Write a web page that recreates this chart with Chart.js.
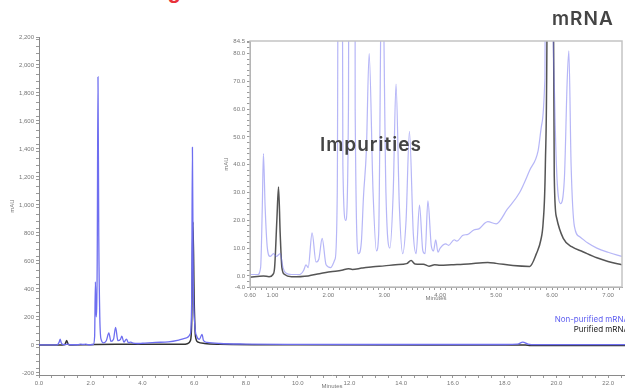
<!DOCTYPE html>
<html lang="en">
<head>
<meta charset="UTF-8">
<title>mRNA purification chromatogram</title>
<script src="https://cdn.jsdelivr.net/npm/chart.js@4"></script>
<style>
    body {
        margin: 0;
        width: 625px;
        height: 391px;
        overflow: hidden;
        position: relative;
        background: #fff;
        font-family: Inter, "Liberation Sans", sans-serif;
    }
    #main { position: absolute; left: 0; top: 0; }
    #inset { position: absolute; left: 200px; top: 30px; background: #fff; }
    .note { position: absolute; font-weight: 600; font-size: 19px; letter-spacing: 1px; color: #444; white-space: nowrap; }
    .legend { position: absolute; font-size: 8px; white-space: nowrap; text-align: right; }
    .title { position: absolute; top: -20px; font: bold 22px "Liberation Sans", sans-serif; color: #e8323a; line-height: 22px; white-space: nowrap; }
</style>
</head>
<body>
<div class="title" style="right:444px;">Removing</div>
<canvas id="main" width="625" height="391"></canvas>
<canvas id="inset" width="425" height="280"></canvas>
<div class="note" style="left:320px; top:133px;">Impurities</div>
<div class="note" style="left:552px; top:7px;">mRNA</div>
<div class="legend" style="right:-4px; top:314px; color:#5c5cf0;">Non-purified mRNA</div>
<div class="legend" style="right:-4px; top:324px; color:#222;">Purified mRNA</div>
<script>
// full run, minutes / mAU
const mainBlueT = [0, 0.7, 0.78, 0.82, 0.86, 0.92, 1.0, 1.1, 1.2, 1.5, 1.62, 1.7, 1.8, 1.9, 2.1, 2.15, 2.18, 2.21, 2.25, 2.28, 2.31, 2.35, 2.4, 2.5, 2.6, 2.7, 2.78, 2.88, 2.96, 3.05, 3.15, 3.2, 3.28, 3.38, 3.46, 3.55, 3.65, 3.8, 4.0, 4.5, 5.0, 5.4, 5.7, 5.85, 5.9, 5.93, 5.96, 6.02, 6.1, 6.2, 6.3, 6.36, 6.5, 7, 8, 10, 14, 18, 18.5, 18.7, 18.9, 19.2, 22.65];
const mainBlueY = [0, 0, 20, 42, 15, 3, 2, 5, 1, 1, 6, 3, 5, 1, 3, 60, 450, 200, 600, 1915, 780, 200, 40, 15, 30, 85, 25, 40, 125, 30, 40, 62, 20, 42, 15, 20, 12, 10, 12, 18, 22, 35, 50, 80, 300, 1412, 500, 150, 60, 40, 75, 30, 18, 10, 6, 4, 3, 3, 5, 20, 6, 2, 2];
const mainBlackT = [0, 0.9, 1.0, 1.07, 1.13, 1.2, 2, 3, 4, 5, 5.6, 5.75, 5.85, 5.9, 5.95, 6.0, 6.05, 6.15, 6.4, 7, 10, 15, 18.8, 19, 22.65];
const mainBlackY = [0, 0, 3, 32, 3, 0, 2, 4, 4.5, 4.5, 4, 10, 30, 150, 880, 300, 60, 20, 10, 5, 1, 0, 0, -5, -5];
const mainXTicks = [0, 2, 4, 6, 8, 10, 12, 14, 16, 18, 20, 22];
const mainXLabels = ['0.0', '2.0', '4.0', '6.0', '8.0', '10.0', '12.0', '14.0', '16.0', '18.0', '20.0', '22.0'];
const mainYTicks = [-200, 0, 200, 400, 600, 800, 1000, 1200, 1400, 1600, 1800, 2000, 2200];
const mainYLabels = ['-200', '0', '200', '400', '600', '800', '1,000', '1,200', '1,400', '1,600', '1,800', '2,000', '2,200'];

// zoomed window
const insetBlueT = [0.6, 0.74, 0.79, 0.82, 0.84, 0.87, 0.91, 0.96, 1.02, 1.07, 1.14, 1.19, 1.24, 1.34, 1.49, 1.56, 1.6, 1.64, 1.71, 1.78, 1.83, 1.89, 1.96, 2.04, 2.12, 2.16, 2.21, 2.26, 2.31, 2.36, 2.42, 2.48, 2.54, 2.59, 2.63, 2.68, 2.73, 2.8, 2.86, 2.9, 2.96, 3.03, 3.1, 3.16, 3.21, 3.27, 3.33, 3.39, 3.45, 3.52, 3.57, 3.63, 3.69, 3.73, 3.78, 3.84, 3.88, 3.92, 3.96, 4.0, 4.1, 4.15, 4.25, 4.3, 4.4, 4.5, 4.6, 4.7, 4.8, 4.85, 5.0, 5.2, 5.42, 5.6, 5.75, 5.82, 5.87, 5.9, 5.93, 5.97, 6.05, 6.15, 6.22, 6.27, 6.3, 6.34, 6.4, 6.5, 6.64, 6.8, 7.0, 7.25];
const insetBlueY = [0.5, 0.5, 3, 25, 44, 25, 10, 7, 8, 7, 8, 3, 1, 0.5, 0.5, 2, 4, 3, 15.5, 5, 6, 13.5, 4, 3, 6, 30, 450, 40, 20, 60, 1915, 60, 8, 12, 29, 45, 80, 30, 9, 15, 125, 30, 10, 30, 69, 25, 8, 20, 52, 15, 8, 25.5, 9, 8, 27, 11, 9, 13, 8.5, 10, 11.5, 11, 13, 12.5, 14.5, 15, 16.5, 17, 19, 19.5, 18.7, 24, 30, 38, 45, 55, 70, 200, 1412, 300, 60, 26, 35, 70, 81, 40, 17.7, 14, 11.8, 10, 8.5, 7];
const insetBlackT = [0.6, 0.84, 0.94, 1.01, 1.04, 1.08, 1.11, 1.14, 1.17, 1.22, 1.34, 1.64, 1.84, 2.04, 2.24, 2.36, 2.43, 2.6, 2.8, 3.0, 3.2, 3.4, 3.48, 3.55, 3.7, 3.8, 3.9, 4.0, 4.2, 4.5, 4.85, 5.0, 5.3, 5.6, 5.72, 5.8, 5.84, 5.88, 5.92, 5.96, 6.0, 6.04, 6.08, 6.2, 6.35, 6.55, 6.8, 7.0, 7.25];
const insetBlackY = [-0.5, 0, -0.3, 0.5, 3, 20, 32, 15, 3, 0.5, -0.3, 0, 0.8, 1.5, 2, 2.6, 2.3, 2.8, 3.3, 3.6, 4, 4.4, 5.5, 4.3, 4.2, 3.5, 4, 3.8, 4, 4.3, 4.8, 4.5, 3.7, 3.4, 8, 13, 19, 40, 150, 880, 200, 35, 21, 13.5, 10.5, 8.7, 6.5, 5.2, 4];
const insetXTicks = [0.6, 1, 2, 3, 4, 5, 6, 7];
const insetXLabels = ['0.60', '1.00', '2.00', '3.00', '4.00', '5.00', '6.00', '7.00'];
const insetYTicks = [-4, 0, 10, 20, 30, 40, 50, 60, 70, 80, 84.5];
const insetYLabels = ['-4.0', '0.0', '10.0', '20.0', '30.0', '40.0', '50.0', '60.0', '70.0', '80.0', '84.5'];

Chart.defaults.font.family = '"Liberation Sans", Arial, sans-serif';
Chart.defaults.color = '#777';

function pts(t, y) {
    return t.map((v, i) => ({ x: v, y: y[i] }));
}

// major ticks from the arrays plus unlabelled minor ticks between them
function tickBuilder(major, minorStep) {
    return (scale) => {
        const vals = major.slice();
        for (let v = scale.min; v <= scale.max + 1e-9; v += minorStep) {
            const r = Math.round(v * 1000) / 1000;
            if (!vals.some(m => Math.abs(m - r) < 1e-6)) vals.push(r);
        }
        vals.sort((a, b) => a - b);
        scale.ticks = vals.map(v => ({ value: v }));
    };
}

function labeller(major, labels) {
    return (value) => {
        const i = major.findIndex(m => Math.abs(m - value) < 1e-6);
        return i >= 0 ? labels[i] : '';
    };
}

function axis(min, max, major, labels, minorStep, title, fit) {
    return {
        type: 'linear',
        min: min,
        max: max,
        afterBuildTicks: tickBuilder(major, minorStep),
        afterFit: fit,
        grid: { display: true, drawOnChartArea: false, drawTicks: true, tickLength: 3, color: '#9a9a9a' },
        border: { display: true, color: '#8a8a8a', width: 1 },
        ticks: { autoSkip: false, maxRotation: 0, padding: 2, font: { size: 6 }, callback: labeller(major, labels) },
        title: { display: true, text: title, padding: 1, font: { size: 6 } }
    };
}

const boxPlugin = {
    id: 'box',
    afterDraw(chart) {
        const a = chart.chartArea, ctx = chart.ctx;
        ctx.save();
        ctx.strokeStyle = '#c4c4c4';
        ctx.lineWidth = 1.5;
        ctx.strokeRect(a.left, a.top, a.right - a.left, a.bottom - a.top);
        ctx.restore();
    }
};

function line(data, color, width) {
    return {
        data: data,
        showLine: true,
        borderColor: color,
        borderWidth: width,
        pointRadius: 0,
        cubicInterpolationMode: 'monotone',
        fill: false
    };
}

new Chart(document.getElementById('main'), {
    type: 'scatter',
    data: {
        datasets: [
            line(pts(mainBlueT, mainBlueY), '#6e6ef0', 1.3),
            line(pts(mainBlackT, mainBlackY), '#333333', 1.5)
        ]
    },
    options: {
        responsive: false,
        animation: false,
        devicePixelRatio: 1,
        layout: { padding: { left: 8, top: 37, right: 0, bottom: 0 } },
        plugins: { legend: { display: false }, tooltip: { enabled: false } },
        scales: {
            x: axis(0, 22.65, mainXTicks, mainXLabels, 0.5, 'Minutes', s => { s.height = 16; }),
            y: axis(-215, 2200, mainYTicks, mainYLabels, 50, 'mAU', s => { s.width = 31; })
        }
    }
});

new Chart(document.getElementById('inset'), {
    type: 'scatter',
    data: {
        datasets: [
            line(pts(insetBlueT, insetBlueY), 'rgba(110,110,240,0.5)', 1.2),
            line(pts(insetBlackT, insetBlackY), '#555555', 1.5)
        ]
    },
    options: {
        responsive: false,
        animation: false,
        devicePixelRatio: 1,
        layout: { padding: { left: 22, top: 11, right: 3, bottom: 7 } },
        plugins: { legend: { display: false }, tooltip: { enabled: false } },
        scales: {
            x: axis(0.6, 7.25, insetXTicks, insetXLabels, 0.1, 'Minutes', s => { s.height = 16; }),
            y: axis(-4, 84.5, insetYTicks, insetYLabels, 2, 'mAU', s => { s.width = 28; })
        }
    },
    plugins: [boxPlugin]
});
</script>
</body>
</html>
